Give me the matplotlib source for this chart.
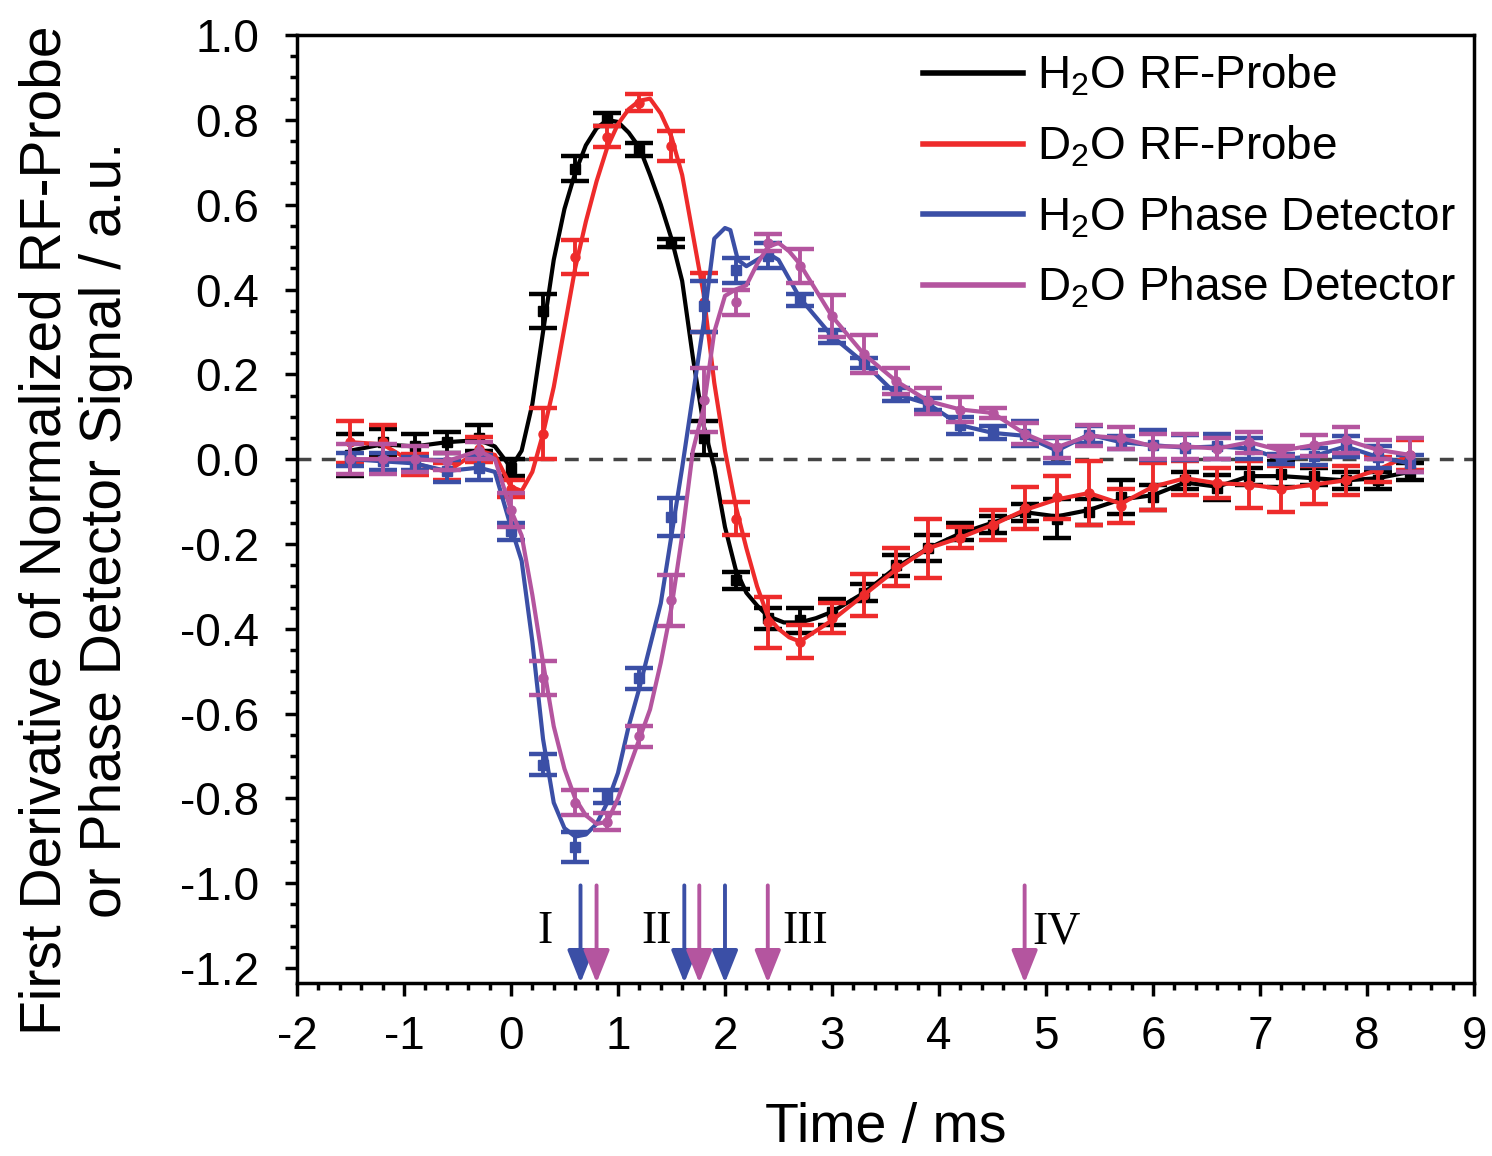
import numpy as np
import matplotlib
matplotlib.use('Agg')
import matplotlib.pyplot as plt
from matplotlib.ticker import MultipleLocator

plt.rcParams['font.family'] = ['Liberation Sans', 'DejaVu Sans']
plt.rcParams['mathtext.fontset'] = 'custom'
plt.rcParams['mathtext.rm'] = 'Liberation Sans'
plt.rcParams['mathtext.it'] = 'Liberation Sans:italic'
plt.rcParams['axes.unicode_minus'] = False

# marker / error bar data (every 0.3 ms)
t_pts = np.round(np.arange(-1.5, 8.41, 0.3), 2)

h2o_rf = [0.01, 0.04, 0.03, 0.04, 0.05, -0.02, 0.35, 0.685, 0.80, 0.73, 0.51, 0.05,
          -0.285, -0.375, -0.38, -0.36, -0.315, -0.25, -0.21, -0.17, -0.155, -0.125,
          -0.14, -0.125, -0.09, -0.09, -0.05, -0.067, -0.04, -0.035, -0.04, -0.05, -0.05, -0.03]
h2o_rf_err = [0.05, 0.03, 0.03, 0.025, 0.03, 0.02, 0.04, 0.03, 0.015, 0.015, 0.01, 0.04,
              0.02, 0.025, 0.03, 0.03, 0.02, 0.025, 0.03, 0.02, 0.02, 0.02,
              0.045, 0.03, 0.04, 0.03, 0.02, 0.03, 0.02, 0.03, 0.02, 0.02, 0.02, 0.02]

d2o_rf = [0.04, 0.04, -0.013, -0.03, 0.023, -0.07, 0.06, 0.476, 0.76, 0.84, 0.738, 0.37,
          -0.14, -0.385, -0.43, -0.375, -0.32, -0.255, -0.21, -0.185, -0.155, -0.115,
          -0.09, -0.08, -0.11, -0.065, -0.045, -0.057, -0.06, -0.07, -0.06, -0.05, -0.025, 0.01]
d2o_rf_err = [0.05, 0.04, 0.025, 0.02, 0.03, 0.02, 0.06, 0.04, 0.025, 0.02, 0.035, 0.07,
              0.04, 0.06, 0.04, 0.035, 0.05, 0.045, 0.07, 0.025, 0.035, 0.05,
              0.05, 0.075, 0.04, 0.055, 0.04, 0.035, 0.055, 0.055, 0.045, 0.035, 0.03, 0.035]

h2o_pd = [0.0, -0.005, -0.01, -0.028, -0.02, -0.17, -0.72, -0.915, -0.795, -0.517, -0.136, 0.36,
          0.445, 0.48, 0.375, 0.29, 0.227, 0.153, 0.13, 0.08, 0.062, 0.06,
          0.02, 0.058, 0.04, 0.033, 0.027, 0.03, 0.025, 0.0, 0.007, 0.03, 0.005, -0.01]
h2o_pd_err = [0.015, 0.02, 0.015, 0.025, 0.03, 0.02, 0.025, 0.035, 0.015, 0.025, 0.045, 0.06,
              0.03, 0.03, 0.015, 0.015, 0.012, 0.015, 0.015, 0.02, 0.015, 0.03,
              0.03, 0.02, 0.015, 0.035, 0.03, 0.03, 0.025, 0.012, 0.02, 0.025, 0.025, 0.02]

d2o_pd = [0.0, 0.0, 0.0, -0.005, 0.02, -0.12, -0.517, -0.81, -0.855, -0.653, -0.333, 0.14,
          0.37, 0.51, 0.455, 0.337, 0.247, 0.184, 0.137, 0.117, 0.109, 0.06,
          0.028, 0.055, 0.05, 0.03, 0.03, 0.025, 0.04, 0.02, 0.033, 0.045, 0.022, 0.01]
d2o_pd_err = [0.035, 0.035, 0.03, 0.02, 0.02, 0.04, 0.04, 0.03, 0.02, 0.025, 0.06, 0.075,
              0.03, 0.02, 0.04, 0.05, 0.045, 0.03, 0.03, 0.03, 0.012, 0.025,
              0.025, 0.025, 0.025, 0.03, 0.03, 0.025, 0.025, 0.012, 0.025, 0.03, 0.022, 0.04]

# smoothed curves
h2o_rf_t = [-1.5, -1.2, -0.9, -0.6, -0.3, -0.15, 0.0, 0.1, 0.2, 0.3, 0.4, 0.5, 0.6, 0.7, 0.8, 0.9,
            1.0, 1.1, 1.2, 1.3, 1.4, 1.5, 1.6, 1.7, 1.8, 1.9, 2.0, 2.1, 2.2, 2.3, 2.4, 2.55, 2.7,
            2.85, 3.0, 3.3, 3.6, 3.9, 4.2, 4.5, 4.8, 5.1, 5.4, 5.7, 6.0, 6.3, 6.6, 6.9, 7.2,
            7.5, 7.8, 8.1, 8.4]
h2o_rf_line = [0.02, 0.035, 0.03, 0.04, 0.045, 0.03, -0.02, 0.02, 0.13, 0.30, 0.47, 0.59, 0.675,
               0.74, 0.78, 0.80, 0.795, 0.77, 0.735, 0.67, 0.60, 0.52, 0.42, 0.24, 0.08, -0.02,
               -0.16, -0.26, -0.315, -0.345, -0.37, -0.385, -0.385, -0.375, -0.36, -0.315,
               -0.255, -0.21, -0.175, -0.15, -0.125, -0.135, -0.12, -0.095, -0.085, -0.055,
               -0.065, -0.04, -0.04, -0.045, -0.05, -0.045, -0.03]

d2o_rf_t = [-1.5, -1.2, -0.9, -0.6, -0.3, -0.15, 0.0, 0.1, 0.2, 0.3, 0.4, 0.5, 0.6, 0.7, 0.8, 0.9,
            1.0, 1.1, 1.2, 1.3, 1.4, 1.5, 1.6, 1.7, 1.8, 1.9, 2.0, 2.1, 2.2, 2.3, 2.4, 2.5, 2.6,
            2.7, 2.85, 3.0, 3.3, 3.6, 3.9, 4.2, 4.5, 4.8, 5.1, 5.4, 5.7, 6.0, 6.3, 6.6, 6.9,
            7.2, 7.5, 7.8, 8.1, 8.4]
d2o_rf_line = [0.04, 0.035, -0.01, -0.03, 0.02, 0.01, -0.065, -0.075, -0.03, 0.06, 0.17, 0.31,
               0.45, 0.56, 0.655, 0.735, 0.79, 0.825, 0.845, 0.85, 0.815, 0.76, 0.67, 0.53,
               0.39, 0.18, 0.02, -0.11, -0.21, -0.30, -0.37, -0.40, -0.42, -0.43, -0.405,
               -0.38, -0.32, -0.26, -0.21, -0.185, -0.155, -0.12, -0.095, -0.08, -0.105,
               -0.065, -0.045, -0.057, -0.06, -0.07, -0.06, -0.05, -0.025, 0.01]

h2o_pd_t = [-1.5, -1.2, -0.9, -0.6, -0.3, -0.15, 0.0, 0.1, 0.2, 0.3, 0.4, 0.5, 0.6, 0.7, 0.8, 0.9,
            1.0, 1.1, 1.2, 1.3, 1.4, 1.5, 1.6, 1.7, 1.8, 1.9, 2.0, 2.05, 2.12, 2.2, 2.3, 2.4,
            2.5, 2.7, 3.0, 3.3, 3.6, 3.9, 4.2, 4.5, 4.8, 5.1, 5.4, 5.7, 6.0, 6.3, 6.6, 6.9,
            7.2, 7.5, 7.8, 8.1, 8.4]
h2o_pd_line = [0.0, -0.005, -0.01, -0.028, -0.02, -0.03, -0.16, -0.24, -0.43, -0.66, -0.81,
               -0.87, -0.89, -0.885, -0.86, -0.81, -0.74, -0.63, -0.54, -0.44, -0.34, -0.18,
               -0.02, 0.15, 0.32, 0.52, 0.545, 0.54, 0.47, 0.455, 0.47, 0.485, 0.47, 0.38,
               0.29, 0.227, 0.153, 0.13, 0.08, 0.062, 0.055, 0.02, 0.058, 0.04, 0.033, 0.027,
               0.03, 0.025, 0.0, 0.007, 0.03, 0.005, -0.01]

d2o_pd_t = [-1.5, -1.2, -0.9, -0.6, -0.3, -0.15, 0.0, 0.1, 0.2, 0.3, 0.4, 0.5, 0.6, 0.7, 0.8, 0.9,
            1.0, 1.1, 1.2, 1.3, 1.4, 1.5, 1.6, 1.7, 1.8, 1.9, 2.0, 2.1, 2.2, 2.3, 2.4, 2.5, 2.6,
            2.7, 3.0, 3.3, 3.6, 3.9, 4.2, 4.5, 4.8, 5.1, 5.4, 5.7, 6.0, 6.3, 6.6, 6.9, 7.2,
            7.5, 7.8, 8.1, 8.4]
d2o_pd_line = [0.0, 0.0, 0.0, -0.005, 0.02, 0.0, -0.12, -0.18, -0.32, -0.48, -0.63, -0.73,
               -0.80, -0.84, -0.86, -0.855, -0.80, -0.73, -0.66, -0.59, -0.48, -0.35, -0.18,
               0.02, 0.12, 0.30, 0.385, 0.40, 0.41, 0.46, 0.50, 0.51, 0.49, 0.46, 0.337,
               0.247, 0.184, 0.137, 0.117, 0.109, 0.06, 0.028, 0.055, 0.05, 0.03, 0.03, 0.025,
               0.04, 0.02, 0.033, 0.045, 0.022, 0.01]

# arrows under the curves
arrow_t = [0.65, 0.80, 1.62, 1.76, 2.0, 2.4, 4.8]
arrow_kind = ['h2o', 'd2o', 'h2o', 'd2o', 'h2o', 'd2o', 'd2o']
region_labels = ['I', 'II', 'III', 'IV']
region_t = [0.32, 1.36, 2.75, 5.1]

black = '#000000'
red = '#EE2B2B'
blue = '#3B4FA6'
magenta = '#B4559F'

fig = plt.figure(figsize=(14.92, 11.56), dpi=100)
ax = fig.add_axes([0.199, 0.1497, 0.789, 0.82])

ax.axhline(0, color='#444444', lw=2.5, ls=(0, (4, 3)), zorder=1)

series = [
    (h2o_rf_t, h2o_rf_line, h2o_rf, h2o_rf_err, black, 's', 'H$_2$O RF-Probe'),
    (d2o_rf_t, d2o_rf_line, d2o_rf, d2o_rf_err, red, 'o', 'D$_2$O RF-Probe'),
    (h2o_pd_t, h2o_pd_line, h2o_pd, h2o_pd_err, blue, 's', 'H$_2$O Phase Detector'),
    (d2o_pd_t, d2o_pd_line, d2o_pd, d2o_pd_err, magenta, 'o', 'D$_2$O Phase Detector'),
]
for i, (lt, lv, pv, pe, c, m, lab) in enumerate(series):
    ax.plot(lt, lv, color=c, lw=3.0, label=lab, zorder=2 + i)
    ax.errorbar(t_pts, pv, yerr=pe, fmt=m, ms=6.5, color=c, ecolor=c, elinewidth=2.8,
                capsize=10, capthick=3.2, zorder=2 + i)

for t, k in zip(arrow_t, arrow_kind):
    c = blue if k == 'h2o' else magenta
    ax.annotate('', xy=(t, -1.235), xytext=(t, -1.005),
                arrowprops=dict(arrowstyle='-|>,head_length=1.0,head_width=0.4',
                                color=c, lw=2.8, shrinkA=0, shrinkB=0, mutation_scale=20))
for lab, t in zip(region_labels, region_t):
    ax.text(t, -1.115, lab, family=['Liberation Serif'], fontsize=33,
            ha='center', va='center')

ax.set_xlim(-2, 9)
ax.set_ylim(-1.235, 1.0)
ax.xaxis.set_major_locator(MultipleLocator(1))
ax.xaxis.set_minor_locator(MultipleLocator(0.2))
ax.yaxis.set_major_locator(MultipleLocator(0.2))
ax.yaxis.set_minor_locator(MultipleLocator(0.05))
ax.tick_params(which='both', direction='out', width=2.5, labelsize=33, top=False, right=False)
ax.tick_params(which='major', length=9, pad=14)
ax.tick_params(axis='y', which='major', pad=18)
ax.tick_params(which='minor', length=5)
ax.yaxis.set_major_formatter(plt.FuncFormatter(lambda v, p: f'{v:.1f}'.replace('-0.0', '0.0')))
for s in ax.spines.values():
    s.set_linewidth(2.5)

ax.set_xlabel('Time / ms', fontsize=40, labelpad=31)
fig.text(76 / 1492, 1 - 530 / 1156,
         'First Derivative of Normalized RF-Probe\nor Phase Detector Signal / a.u.',
         fontsize=41, rotation=90, ha='center', va='center', multialignment='center',
         linespacing=1.15)

ax.legend(loc='upper right', bbox_to_anchor=(1.0, 1.0), frameon=False, fontsize=33,
          handlelength=2.2, handletextpad=0.3, labelspacing=0.55, borderaxespad=0.0)
for h in ax.get_legend().get_lines():
    h.set_linewidth(4)

fig.savefig('out.png', dpi=100)
